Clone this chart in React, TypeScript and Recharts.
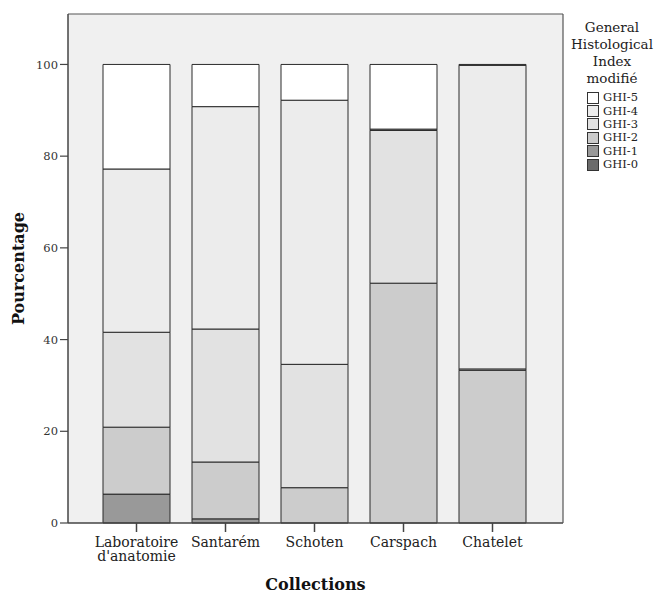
import { Bar, BarChart, CartesianGrid, Legend, ReferenceLine, Text, XAxis, YAxis } from "recharts";

// categories and stacked percentages per GHI class
const collections = ["Laboratoire d'anatomie", "Santarém", "Schoten", "Carspach", "Chatelet"];
const ghi0 = [0, 0, 0, 0, 0];
const ghi1 = [6.3, 0.9, 0, 0, 0];
const ghi2 = [14.6, 12.4, 7.7, 52.3, 33.3];
const ghi3 = [20.7, 29.0, 26.9, 33.3, 0.3];
const ghi4 = [35.6, 48.5, 57.6, 0.3, 66.2];
const ghi5 = [22.8, 9.2, 7.8, 14.1, 0.2];

const seriesNames = ["GHI-0", "GHI-1", "GHI-2", "GHI-3", "GHI-4", "GHI-5"];
const seriesValues = [ghi0, ghi1, ghi2, ghi3, ghi4, ghi5];
const seriesColors = ["#6b6b6b", "#999999", "#cccccc", "#e2e2e2", "#ececec", "#ffffff"];
const yTicks = [0, 20, 40, 60, 80, 100];
const yMax = 111;
const legendTitle = ["General", "Histological", "Index", "modifié"];

const data = collections.map((collection, i) => {
	const row: Record<string, string | number> = { collection };
	seriesNames.forEach((name, s) => {
		row[name] = seriesValues[s][i];
	});
	return row;
});

const FONT = "'DejaVu Serif', serif";
const AXIS = "#444";

const CollectionTick = ({ x, y, payload }: any) => (
	<Text
		x={x}
		y={y + 3}
		width={96}
		textAnchor="middle"
		verticalAnchor="start"
		lineHeight={14.5}
		fontFamily={FONT}
		fontSize={14}
		fill="#222"
	>
		{payload.value}
	</Text>
);

const GhiLegend = () => (
	<div style={{ fontFamily: FONT, color: "#222" }}>
		{legendTitle.map((line) => (
			<div
				key={line}
				style={{ textAlign: "center", fontSize: 13.5, lineHeight: "17px" }}
			>
				{line}
			</div>
		))}
		<div style={{ marginTop: 4, marginLeft: 19 }}>
			{seriesNames
				.slice()
				.reverse()
				.map((name) => (
					<div
						key={name}
						style={{
							display: "flex",
							alignItems: "center",
							height: 13.4,
							fontSize: 11.5,
							lineHeight: "13px",
						}}
					>
						<span
							style={{
								display: "inline-block",
								width: 10,
								height: 10,
								border: "1px solid #333",
								background: seriesColors[seriesNames.indexOf(name)],
								marginRight: 4,
							}}
						/>
						{name}
					</div>
				))}
		</div>
	</div>
);

export default function App() {
	return (
		<div style={{ position: "absolute", left: 0, top: 0, background: "#fff" }}>
			<BarChart
				width={656}
				height={595}
				data={data}
				margin={{ top: 14, right: 92, left: 0, bottom: 0 }}
				barSize={67}
			>
				<CartesianGrid fill="#f0f0f0" horizontal={false} vertical={false} />
				<XAxis
					dataKey="collection"
					height={72}
					padding={{ left: 24, right: 26 }}
					axisLine={{ stroke: AXIS, strokeWidth: 1.5 }}
					tickLine={{ stroke: AXIS, strokeWidth: 1.5 }}
					tickSize={9}
					interval={0}
					tick={<CollectionTick />}
					label={{
						value: "Collections",
						position: "insideBottom",
						offset: 5,
						style: { fontFamily: FONT, fontSize: 16, fontWeight: "bold", fill: "#111" },
					}}
				/>
				<YAxis
					width={68}
					type="number"
					domain={[0, yMax]}
					ticks={yTicks}
					tickSize={8}
					tickMargin={2}
					axisLine={{ stroke: AXIS, strokeWidth: 1.5 }}
					tickLine={{ stroke: AXIS, strokeWidth: 1.2 }}
					tick={{ fontFamily: FONT, fontSize: 11.5, fill: "#333" }}
					label={{
						value: "Pourcentage",
						angle: -90,
						position: "insideLeft",
						offset: 18,
						style: {
							textAnchor: "middle",
							fontFamily: FONT,
							fontSize: 16,
							fontWeight: "bold",
							fill: "#111",
						},
					}}
				/>
				<YAxis
					yAxisId="right"
					orientation="right"
					width={1}
					type="number"
					domain={[0, yMax]}
					tick={false}
					tickLine={false}
					axisLine={{ stroke: "#555", strokeWidth: 1.2 }}
				/>
				<ReferenceLine y={yMax} stroke="#555" strokeWidth={1.2} />
				<Legend
					layout="vertical"
					align="center"
					verticalAlign="middle"
					content={<GhiLegend />}
					wrapperStyle={{ left: 568, top: 19, width: 88 }}
				/>
				{seriesNames.map((name, s) => (
					<Bar
						key={name}
						dataKey={name}
						stackId="ghi"
						fill={seriesColors[s]}
						stroke="#2b2b2b"
						strokeWidth={1}
						isAnimationActive={false}
					/>
				))}
			</BarChart>
		</div>
	);
}
